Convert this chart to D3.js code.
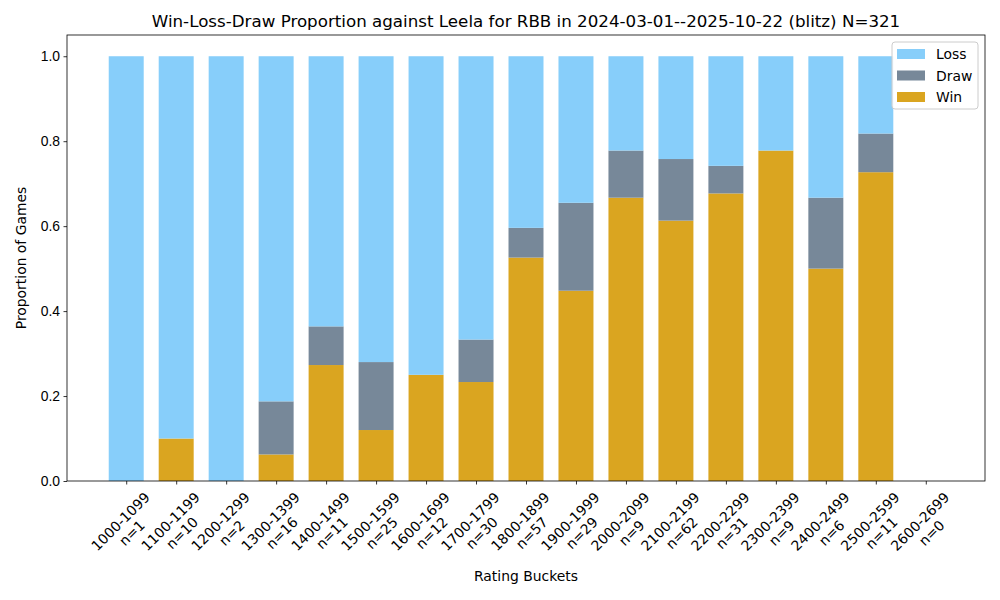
<!DOCTYPE html>
<html>
<head>
<meta charset="utf-8">
<script src="https://cdn.jsdelivr.net/npm/d3@7"></script>
<style>
  body { margin: 0; background: #fff; }
  svg { font-family: "DejaVu Sans", sans-serif; }
  .axis path, .axis line { stroke: #000; stroke-width: 0.8; }
  .axis text { font-size: 13.9px; fill: #000; }
</style>
</head>
<body>
<svg class="chart"></svg>
<script>
// Rating buckets and game counts
var buckets = ['1000-1099', '1100-1199', '1200-1299', '1300-1399', '1400-1499',
  '1500-1599', '1600-1699', '1700-1799', '1800-1899', '1900-1999', '2000-2099',
  '2100-2199', '2200-2299', '2300-2399', '2400-2499', '2500-2599', '2600-2699'];
var counts = [1, 10, 2, 16, 11, 25, 12, 30, 57, 29, 9, 62, 31, 9, 6, 11, 0];

// Proportions
var winShare = [0, 0.1, 0, 0.0625, 0.273, 0.12, 0.25, 0.233, 0.526, 0.448,
  0.667, 0.613, 0.677, 0.778, 0.5, 0.727, 0];
var drawShare = [0, 0, 0, 0.125, 0.091, 0.16, 0, 0.1, 0.07, 0.207,
  0.111, 0.145, 0.065, 0, 0.167, 0.091, 0];
var lossShare = [1, 0.9, 1, 0.8125, 0.636, 0.72, 0.75, 0.667, 0.404, 0.345,
  0.222, 0.242, 0.258, 0.222, 0.333, 0.182, 0];

var yTicks = [0, 0.2, 0.4, 0.6, 0.8, 1.0];

var seriesColors = {Win: '#DAA520', Draw: '#778899', Loss: '#87CEFA'};

var chartWidth = 1000;
var chartHeight = 600;
var plotLeft = 67, plotRight = 985, plotTop = 35, plotBottom = 481;

var chart = d3.select('.chart').attr('width', chartWidth).attr('height', chartHeight);

var x = d3.scaleLinear().domain([-1.185, 17.185]).range([plotLeft, plotRight]);
var y = d3.scaleLinear().domain([0, 1.05]).range([plotBottom, plotTop]);
var barW = x(0.7) - x(0);

// stack: win at bottom, then draw, then loss
var rows = buckets.map((b, i) => ({
  i: i,
  parts: [
    {key: 'Win', lo: 0, hi: winShare[i]},
    {key: 'Draw', lo: winShare[i], hi: winShare[i] + drawShare[i]},
    {key: 'Loss', lo: winShare[i] + drawShare[i],
     hi: winShare[i] + drawShare[i] + lossShare[i]},
  ]
}));

chart.selectAll('g.bucket')
    .data(rows)
    .join('g')
    .attr('class', 'bucket')
    .selectAll('rect')
    .data(r => r.parts.map(p => Object.assign({i: r.i}, p)))
    .join('rect')
    .attr('x', d => x(d.i) - barW / 2)
    .attr('width', barW)
    .attr('y', d => y(d.hi))
    .attr('height', d => y(d.lo) - y(d.hi))
    .style('fill', d => seriesColors[d.key]);

// y axis
var yAxis = d3.axisLeft(y).tickValues(yTicks).tickFormat(d3.format('.1f'))
    .tickSize(3.5).tickPadding(3.5);
chart.append('g')
    .attr('class', 'axis')
    .attr('transform', 'translate(' + plotLeft + ',0)')
    .call(yAxis)
    .call(g => g.select('.domain').remove());

// x axis ticks
var xAxis = d3.axisBottom(x).tickValues(d3.range(buckets.length))
    .tickSize(3.5).tickFormat('');
chart.append('g')
    .attr('class', 'axis')
    .attr('transform', 'translate(0,' + plotBottom + ')')
    .call(xAxis)
    .call(g => g.select('.domain').remove());

// rotated two-line tick labels, bbox centred under the tick
var lineH = 16.2;
buckets.forEach((b, i) => {
  var g = chart.append('g');
  var t = g.append('text')
      .attr('text-anchor', 'middle')
      .style('font-size', '13.9px');
  t.append('tspan').attr('x', 0).attr('y', -lineH / 2 + 5).text(b);
  t.append('tspan').attr('x', 0).attr('y', lineH / 2 + 5).text('n=' + counts[i]);
  var w = Math.max(...t.selectAll('tspan').nodes().map(n => n.getComputedTextLength()));
  var h = 2 * lineH;
  var half = (w + h) / (2 * Math.SQRT2);
  g.attr('transform', 'translate(' + x(i) + ',' + (489 + half) + ') rotate(-45)');
});

// frame
chart.append('rect')
    .attr('x', plotLeft).attr('y', plotTop)
    .attr('width', plotRight - plotLeft).attr('height', plotBottom - plotTop)
    .style('fill', 'none').style('stroke', '#000').style('stroke-width', 0.8);

// title and axis labels
chart.append('text')
    .attr('x', (plotLeft + plotRight) / 2).attr('y', 27)
    .attr('text-anchor', 'middle')
    .style('font-size', '16.7px')
    .text('Win-Loss-Draw Proportion against Leela for RBB in 2024-03-01--2025-10-22 (blitz) N=321');

chart.append('text')
    .attr('x', (plotLeft + plotRight) / 2).attr('y', 581)
    .attr('text-anchor', 'middle')
    .style('font-size', '13.9px')
    .text('Rating Buckets');

chart.append('text')
    .attr('transform', 'translate(26,' + (plotTop + plotBottom) / 2 + ') rotate(-90)')
    .attr('text-anchor', 'middle')
    .style('font-size', '13.9px')
    .text('Proportion of Games');

// legend
var legendKeys = ['Loss', 'Draw', 'Win'];
var legend = chart.append('g').attr('transform', 'translate(892,42)');
legend.append('rect')
    .attr('width', 86).attr('height', 67).attr('rx', 3)
    .style('fill', '#fff').style('fill-opacity', 0.8)
    .style('stroke', '#ccc').style('stroke-width', 1);
legendKeys.forEach((k, i) => {
  legend.append('rect')
      .attr('x', 5).attr('y', 7 + i * 21.5)
      .attr('width', 28).attr('height', 10)
      .style('fill', seriesColors[k]);
  legend.append('text')
      .attr('x', 44).attr('y', 17 + i * 21.5)
      .style('font-size', '13.9px')
      .text(k);
});
</script>
</body>
</html>
